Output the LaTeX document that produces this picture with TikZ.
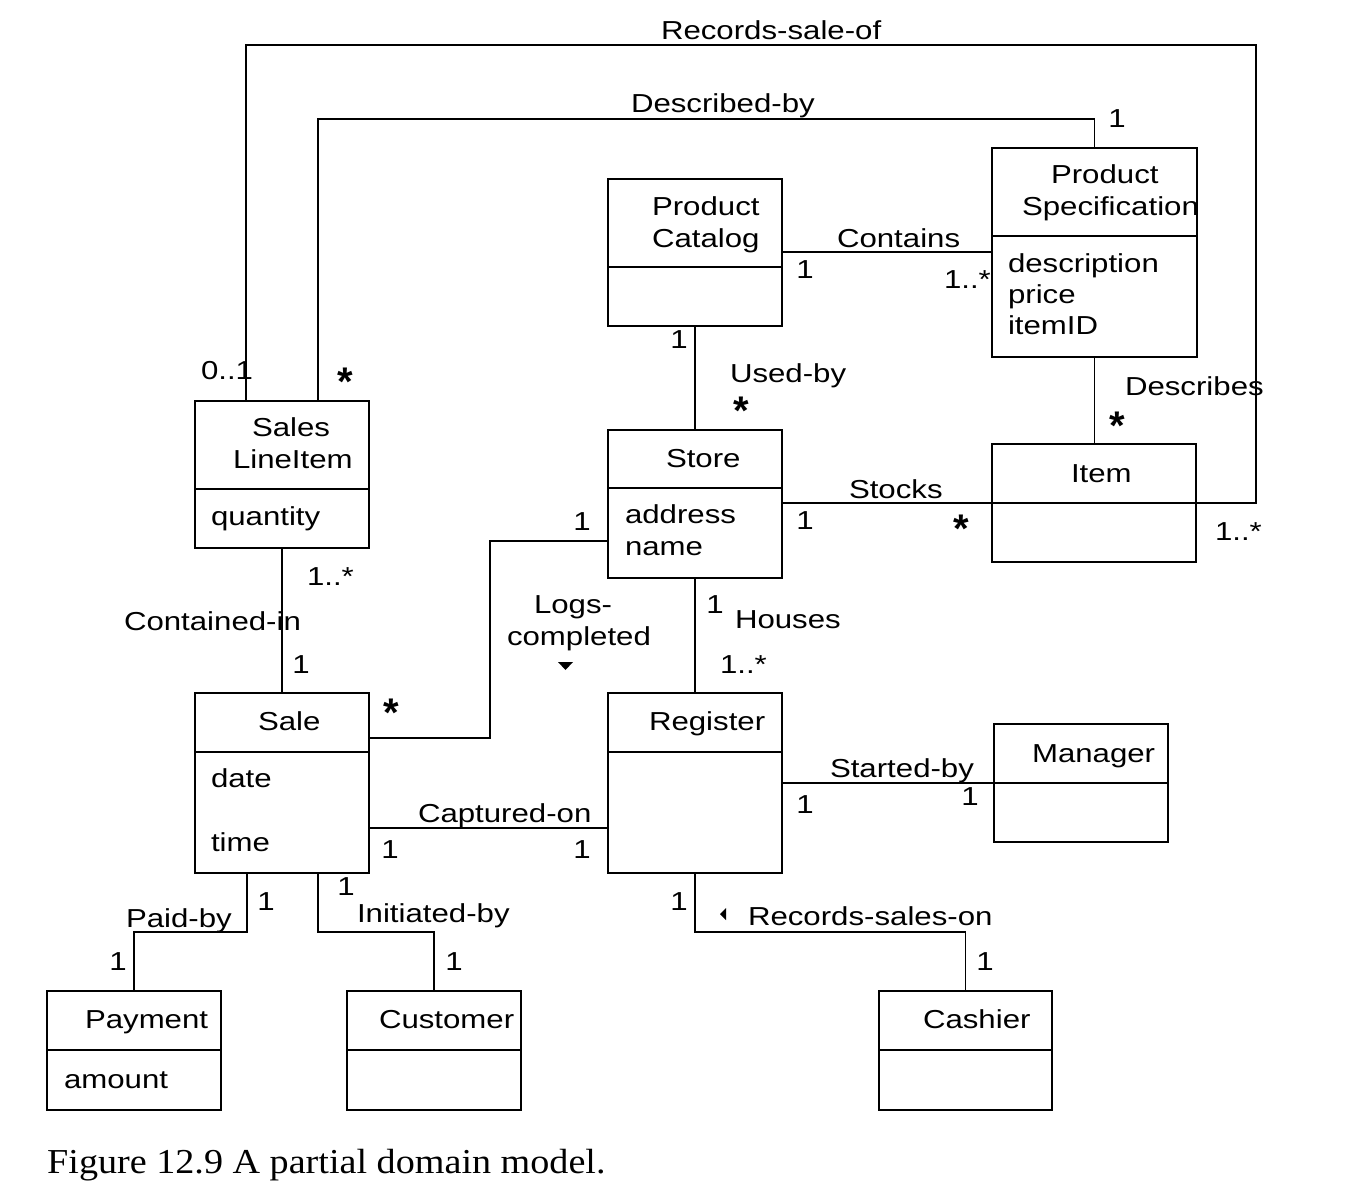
\documentclass[tikz,border=0pt]{standalone}
\usepackage{fontspec}
\newfontfamily\uml{Liberation Sans}[FakeStretch=1.2]
\newfontfamily\umlstar{Liberation Sans}
\newfontfamily\capfont{Liberation Serif}[FakeStretch=1.09]
\begin{document}
\begin{tikzpicture}[x=1pt,y=-1pt,
  cls/.style={draw,line width=1.3pt,inner sep=0pt,outer sep=0pt,anchor=north west},
  assoc/.style={line width=1.3pt},
  lbl/.style={inner sep=0pt,outer sep=0pt,anchor=base west,font=\uml\fontsize{26}{30}\selectfont},
  lblc/.style={inner sep=0pt,outer sep=0pt,anchor=base,font=\uml\fontsize{26}{30}\selectfont},
  mstar/.style={inner sep=0pt,outer sep=0pt,anchor=north,font=\umlstar\bfseries\fontsize{40}{40}\selectfont},
  divline/.style={line width=1.3pt}]
\useasboundingbox (0,0) rectangle (1354,1204);
\fill[white] (0,0) rectangle (1354,1204);
% classes
\node[cls,minimum width=174pt,minimum height=147pt] (sli) at (195,401) {};
\node[cls,minimum width=174pt,minimum height=147pt] (cat) at (608,179) {};
\node[cls,minimum width=205pt,minimum height=209pt] (spec) at (992,148) {};
\node[cls,minimum width=174pt,minimum height=148pt] (store) at (608,430) {};
\node[cls,minimum width=204pt,minimum height=118pt] (item) at (992,444) {};
\node[cls,minimum width=174pt,minimum height=180pt] (sale) at (195,693) {};
\node[cls,minimum width=174pt,minimum height=180pt] (reg) at (608,693) {};
\node[cls,minimum width=174pt,minimum height=118pt] (mgr) at (994,724) {};
\node[cls,minimum width=174pt,minimum height=119pt] (pay) at (47,991) {};
\node[cls,minimum width=174pt,minimum height=119pt] (cust) at (347,991) {};
\node[cls,minimum width=173pt,minimum height=119pt] (cash) at (879,991) {};
% dividers
\draw[divline] ([yshift=-88pt]sli.north west) -- ([yshift=-88pt]sli.north east);
\draw[divline] ([yshift=-88pt]cat.north west) -- ([yshift=-88pt]cat.north east);
\draw[divline] ([yshift=-88pt]spec.north west) -- ([yshift=-88pt]spec.north east);
\draw[divline] ([yshift=-58pt]store.north west) -- ([yshift=-58pt]store.north east);
\draw[divline] ([yshift=-59pt]item.north west) -- ([yshift=-59pt]item.north east);
\draw[divline] ([yshift=-59pt]sale.north west) -- ([yshift=-59pt]sale.north east);
\draw[divline] ([yshift=-59pt]reg.north west) -- ([yshift=-59pt]reg.north east);
\draw[divline] ([yshift=-59pt]mgr.north west) -- ([yshift=-59pt]mgr.north east);
\draw[divline] ([yshift=-59pt]pay.north west) -- ([yshift=-59pt]pay.north east);
\draw[divline] ([yshift=-59pt]cust.north west) -- ([yshift=-59pt]cust.north east);
\draw[divline] ([yshift=-59pt]cash.north west) -- ([yshift=-59pt]cash.north east);
% bend coordinates
\coordinate (rsoTR) at (1256,45);
\coordinate (dbTR) at (1094.5,119);
\coordinate (lcA) at (490,541);
\coordinate (pbA) at (134,932);
\coordinate (ibA) at (434,932);
\coordinate (rsA) at (965.5,932);
% associations
\draw[assoc] ([xshift=51pt]sli.north west) |- (rsoTR) |- ([yshift=-59pt]item.north east);
\draw[assoc] ([xshift=123pt]sli.north west) |- (dbTR) -- (spec.north);
\draw[assoc] ([yshift=-73pt]cat.north east) -- ([yshift=-104pt]spec.north west);
\draw[assoc] (cat.south) -- (store.north);
\draw[assoc] (spec.south) -- (spec.south |- item.north);
\draw[assoc] ([yshift=-73pt]store.north east) -- ([yshift=-59pt]item.north west);
\draw[assoc] (sli.south) -- (sale.north);
\draw[assoc] ([yshift=-45pt]sale.north east) -| (lcA) -- ([yshift=-111pt]store.north west);
\draw[assoc] (store.south) -- (reg.north);
\draw[assoc] ([yshift=-135pt]sale.north east) -- ([yshift=-135pt]reg.north west);
\draw[assoc] ([yshift=-90pt]reg.north east) -- ([yshift=-59pt]mgr.north west);
\draw[assoc] ([xshift=52pt]sale.south west) |- (pbA) -- (pay.north);
\draw[assoc] ([xshift=123pt]sale.south west) |- (ibA) -- (cust.north);
\draw[assoc] (reg.south) |- (rsA) -- (cash.north);
% direction triangles
\fill (558,662) -- (573,662) -- (565.5,670) -- cycle;
\fill (720,914) -- (726,908) -- (726,920) -- cycle;
% class texts
\node[lbl] (tsli1) at (252,436) {Sales};
\node[lbl] (tsli2) at (233,468) {LineItem};
\node[lbl] (tsli3) at (211,525) {quantity};
\node[lbl] (tcat1) at (652,215) {Product};
\node[lbl] (tcat2) at (652,247) {Catalog};
\node[lbl] (tspec1) at (1051,183) {Product};
\node[lbl] (tspec2) at (1022,215) {Specification};
\node[lbl] (tspec3) at (1008,272) {description};
\node[lbl] (tspec4) at (1008,303) {price};
\node[lbl] (tspec5) at (1008,334) {itemID};
\node[lbl] (tstore1) at (666,467) {Store};
\node[lbl] (tstore2) at (625,523) {address};
\node[lbl] (tstore3) at (625,555) {name};
\node[lbl] (titem) at (1071,482) {Item};
\node[lbl] (tsale1) at (258,730) {Sale};
\node[lbl] (tsale2) at (211,787) {date};
\node[lbl] (tsale3) at (211,851) {time};
\node[lbl] (treg) at (649,730) {Register};
\node[lbl] (tmgr) at (1032,762) {Manager};
\node[lbl] (tpay1) at (85,1028) {Payment};
\node[lbl] (tpay2) at (64,1088) {amount};
\node[lbl] (tcust) at (379,1028) {Customer};
\node[lbl] (tcash) at (923,1028) {Cashier};
% association names
\node[lbl] (arso) at (661,40) {Records-sale-of};
\node[lbl] (adb) at (631,113) {Described-by};
\node[lbl] (acon) at (837,247) {Contains};
\node[lbl] (aub) at (730,382) {Used-by};
\node[lbl] (ades) at (1125,395) {Describes};
\node[lbl] (astk) at (849,498) {Stocks};
\node[lbl] (acin) at (124,630) {Contained-in};
\node[lbl] (alc1) at (534,613) {Logs-};
\node[lbl] (alc2) at (507,645) {completed};
\node[lbl] (ahou) at (735,628) {Houses};
\node[lbl] (acap) at (418,822) {Captured-on};
\node[lbl] (asb) at (830,777) {Started-by};
\node[lbl] (apb) at (126,927) {Paid-by};
\node[lbl] (aib) at (357,922) {Initiated-by};
\node[lbl] (arson) at (748,925) {Records-sales-on};
% multiplicities
\node[lbl] (m1) at (201,379) {0..1};
\node[mstar] (m2) at (345,368) {*};
\node[lblc] (m3) at (1117,128) {1};
\node[lblc] (m4) at (805,278) {1};
\node[lbl] (m5) at (944,288) {1..*};
\node[lblc] (m6) at (679,348) {1};
\node[mstar] (m7) at (741,397) {*};
\node[mstar] (m8) at (1117,412) {*};
\node[lblc] (m9) at (805,529) {1};
\node[mstar] (m10) at (961,515) {*};
\node[lbl] (m11) at (1215,540) {1..*};
\node[lblc] (m12) at (582,530) {1};
\node[lbl] (m13) at (307,585) {1..*};
\node[lblc] (m14) at (301,673) {1};
\node[mstar] (m15) at (391,699) {*};
\node[lblc] (m16) at (715,613) {1};
\node[lbl] (m17) at (720,673) {1..*};
\node[lblc] (m18) at (390,858) {1};
\node[lblc] (m19) at (582,858) {1};
\node[lblc] (m20) at (805,813) {1};
\node[lblc] (m21) at (970,805) {1};
\node[lblc] (m22) at (266,910) {1};
\node[lblc] (m23) at (118,970) {1};
\node[lblc] (m24) at (346,895) {1};
\node[lblc] (m25) at (454,970) {1};
\node[lblc] (m26) at (679,910) {1};
\node[lblc] (m27) at (985,970) {1};
% caption
\node[inner sep=0pt,anchor=base west,font=\capfont\fontsize{35}{40}\selectfont] (cap) at (47,1173) {Figure 12.9 A partial domain model.};
\end{tikzpicture}
\end{document}
